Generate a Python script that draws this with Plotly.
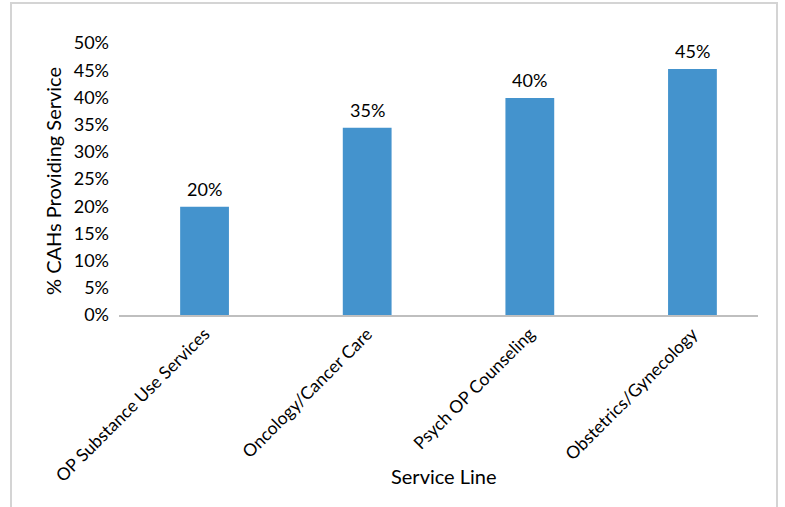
import plotly.graph_objects as go

categories = ["OP Substance Use Services", "Oncology/Cancer Care", "Psych OP Counseling", "Obstetrics/Gynecology"]
values = [0.199, 0.344, 0.399, 0.452]
labels = ["20%", "35%", "40%", "45%"]
y_ticks = [0, 0.05, 0.10, 0.15, 0.20, 0.25, 0.30, 0.35, 0.40, 0.45, 0.50]
x_title = "Service Line"
y_title = "% CAHs Providing Service"

FONT = "Lato"
W, H = 785, 507
L, R, T, B = 119, 27, 43, 192
pw = W - L - R
ph = H - T - B

fig = go.Figure()
fig.add_trace(go.Bar(
    x=categories, y=values,
    marker=dict(color="#4493CD", line=dict(width=0)),
    width=0.30, hoverinfo="skip",
))

# data labels above bars
for c, v, t in zip(categories, values, labels):
    fig.add_annotation(x=c, y=v, text=t, showarrow=False, xanchor="center",
                       yanchor="bottom", yshift=5,
                       font=dict(family=FONT, size=18, color="#000000"))

fig.update_layout(
    width=W, height=H,
    margin=dict(l=L, r=R, t=T, b=B, pad=0, autoexpand=False),
    paper_bgcolor="white", plot_bgcolor="white",
    showlegend=False,
    font=dict(family=FONT, size=18, color="#000000"),
    xaxis=dict(
        range=[-0.526, 3.403], tickangle=-45, showgrid=False, automargin=False,
        showline=True, linecolor="#BFBFBF", linewidth=2, ticks="",
        tickfont=dict(family=FONT, size=17.5),
    ),
    yaxis=dict(
        range=[0, 0.5], tickvals=y_ticks, tickformat=".0%", showgrid=False, automargin=False,
        showline=False, zeroline=False, ticks="", ticklabelstandoff=9,
        tickfont=dict(family=FONT, size=18),
    ),
)

# axis titles
fig.add_annotation(xref="paper", yref="paper", x=(444 - L) / pw, y=(T + ph - 476) / ph,
                   text=x_title, showarrow=False, xanchor="center", yanchor="middle",
                   font=dict(family=FONT, size=20, color="#000000"))
fig.add_annotation(xref="paper", yref="paper", x=(53 - L) / pw, y=(T + ph - 181) / ph,
                   text=y_title, showarrow=False, textangle=-90, xanchor="center", yanchor="middle",
                   font=dict(family=FONT, size=20, color="#000000"))

# outer chart frame
fig.add_shape(type="rect", xref="paper", yref="paper",
              x0=(11 - L) / pw, x1=(777 - L) / pw,
              y0=(T + ph - 520) / ph,
              y1=(T + ph - 3) / ph,
              line=dict(color="#D4D4D4", width=2), layer="below")

fig.write_html("out.html", post_script="document.body.style.margin='0';",
               config={"displayModeBar": False})
